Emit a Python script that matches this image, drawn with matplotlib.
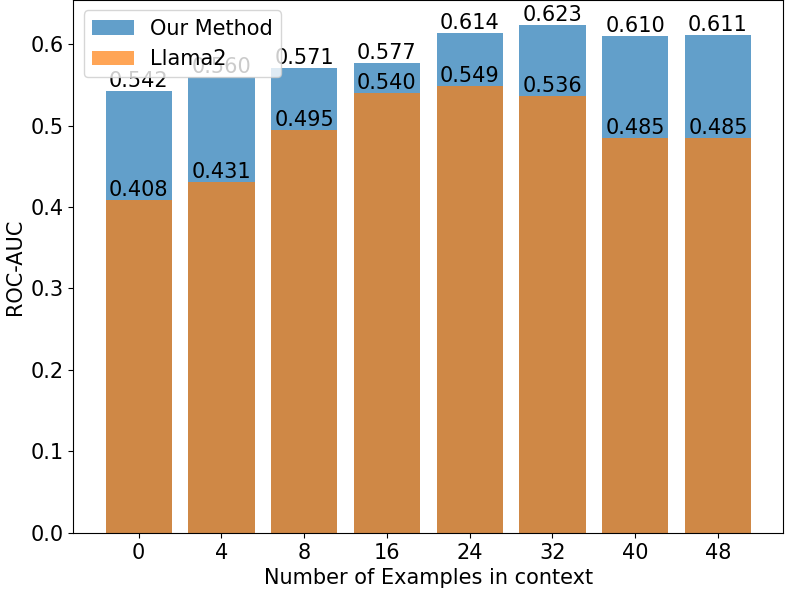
import matplotlib.pyplot as plt

examples = ['0', '4', '8', '16', '24', '32', '40', '48']
our_method = [0.542, 0.560, 0.571, 0.577, 0.614, 0.623, 0.610, 0.611]
llama2 = [0.408, 0.431, 0.495, 0.540, 0.549, 0.536, 0.485, 0.485]

plt.rcParams['font.size'] = 15

fig = plt.figure(figsize=(7.88, 5.94), dpi=100)
ax = fig.add_axes([0.093, 0.103, 0.901, 0.897])

b1 = ax.bar(examples, our_method, alpha=0.7, label='Our Method')
b2 = ax.bar(examples, llama2, alpha=0.7, label='Llama2')
ax.bar_label(b1, labels=['%.3f' % v for v in our_method])
ax.bar_label(b2, labels=['%.3f' % v for v in llama2])

ax.set_xlabel('Number of Examples in context')
ax.set_ylabel('ROC-AUC')
ax.legend(loc='upper left')

fig.savefig('out.png')
